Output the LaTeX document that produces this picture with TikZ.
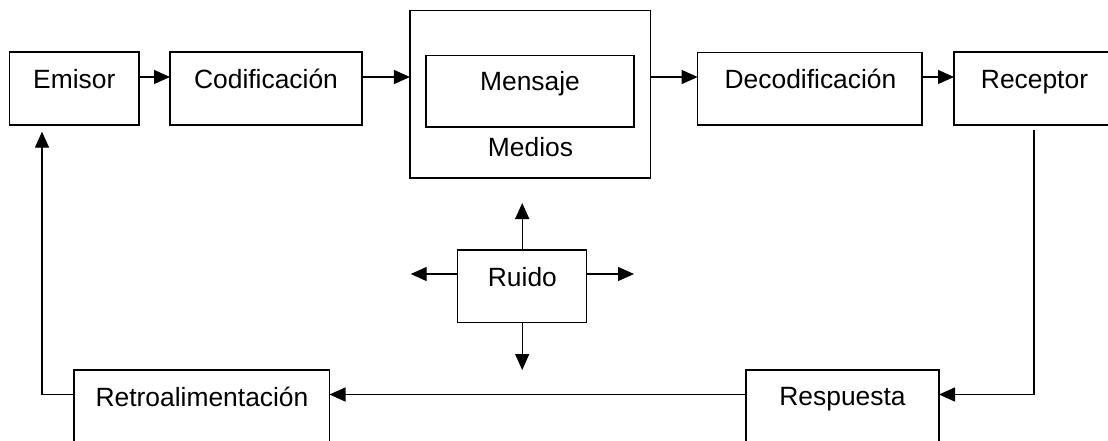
\documentclass[tikz,border=0pt]{standalone}
\usepackage{fontspec}
\setmainfont{Liberation Sans}
\usetikzlibrary{arrows.meta}
\begin{document}
\begin{tikzpicture}[x=1pt,y=-1pt,
  box/.style={draw, line width=1.4pt, inner sep=0pt, outer sep=0pt},
  lbl/.style={anchor=base, inner sep=0pt, font=\fontsize{26.4}{30}\selectfont},
  arr/.style={line width=1.4pt, -{Triangle[length=16pt,width=14pt]}},
  conn/.style={line width=1.4pt}]
\path[use as bounding box, clip] (0,0) rectangle (1108,440);
% boxes
\node[box, minimum width=129.5pt, minimum height=73pt] (emisor) at (74.25,88.5) {};
\node[box, minimum width=192pt, minimum height=73pt] (codif) at (266,88.5) {};
\node[box, minimum width=240.7pt, minimum height=167.3pt] (medios) at (530.3,94.3) {};
\node[box, minimum width=208pt, minimum height=71.3pt] (mensaje) at (530,91.3) {};
\node[box, minimum width=224.3pt, minimum height=72.3pt] (decod) at (809.8,88.8) {};
\node[box, minimum width=166pt, minimum height=73pt] (receptor) at (1037,88.5) {};
\node[box, minimum width=129pt, minimum height=72.7pt] (ruido) at (522.2,286.3) {};
\node[box, minimum width=255.5pt, minimum height=75pt] (retro) at (201.75,407.5) {};
\node[box, minimum width=193pt, minimum height=75pt] (resp) at (842.5,407.5) {};
% labels
\node[lbl] (emisorL) at (74.25,88.3) {Emisor};
\node[lbl] (codifL) at (266,88.3) {Codificación};
\node[lbl] (mensajeL) at (530,90.7) {Mensaje};
\node[lbl] (mediosL) at (530.5,156) {Medios};
\node[lbl] (decodL) at (810.5,88.3) {Decodificación};
\node[lbl] (receptorL) at (1034.5,88.3) {Receptor};
\node[lbl] (ruidoL) at (522.4,286.7) {Ruido};
\node[lbl] (retroL) at (202,406.7) {Retroalimentación};
\node[lbl] (respL) at (842.5,405.7) {Respuesta};
% helper coordinates
\coordinate (row) at (0,77);
\coordinate (fb) at (0,394.5);
\coordinate (nrow) at (0,274);
\coordinate (rdown) at (1034,130);
\coordinate (etip) at (42,131.7);
\coordinate (nup) at (522.2,203);
\coordinate (ndown) at (522.2,370);
\coordinate (nleft) at (410.7,274);
\coordinate (nright) at (634,274);
% top row arrows
\draw[arr] (emisor.east |- row) -- (codif.west |- row);
\draw[arr] (codif.east |- row) -- (medios.west |- row);
\draw[arr] (medios.east |- row) -- (decod.west |- row);
\draw[arr] (decod.east |- row) -- (receptor.west |- row);
% feedback loop
\draw[arr] (rdown) |- (resp.east |- fb);
\draw[arr] (resp.west |- fb) -- (retro.east |- fb);
\draw[arr] (retro.west |- fb) -| (etip);
% noise
\draw[arr] (ruido.north) -- (nup);
\draw[arr] (ruido.south) -- (ndown);
\draw[arr] (ruido.west |- nrow) -- (nleft);
\draw[arr] (ruido.east |- nrow) -- (nright);
\end{tikzpicture}
\end{document}
